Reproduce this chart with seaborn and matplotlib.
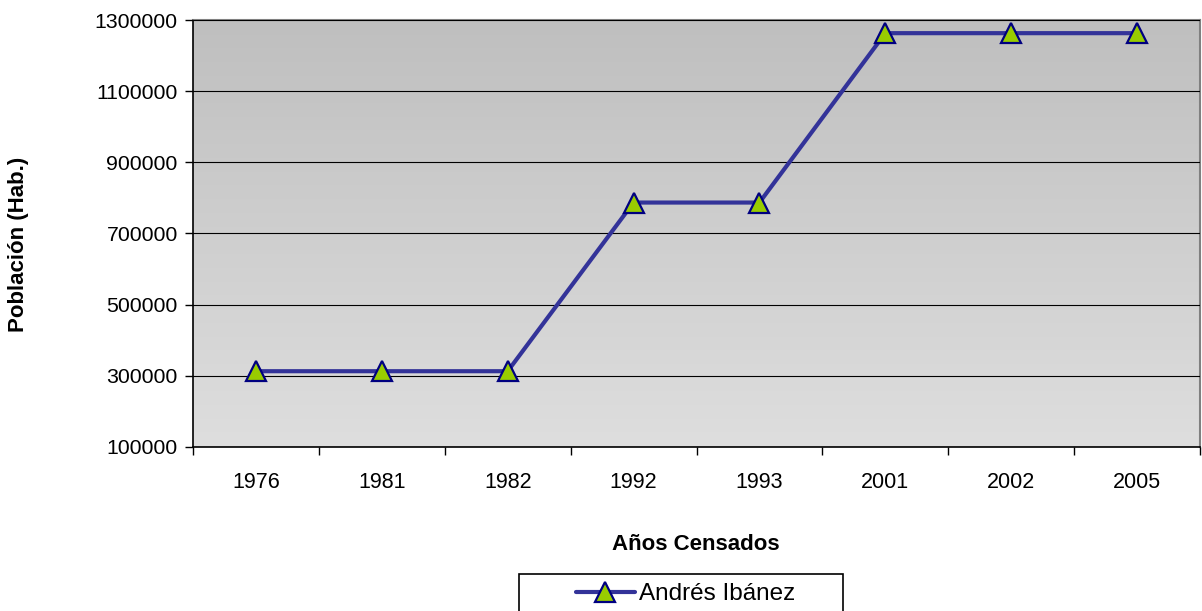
import seaborn as sns
import matplotlib.pyplot as plt
import matplotlib.patches as mpatches
import numpy as np
import pandas as pd

# census years and population
years = ["1976", "1981", "1982", "1992", "1993", "2001", "2002", "2005"]
poblacion = [313000, 313000, 313000, 787000, 787000, 1263000, 1263000, 1263000]
serie = "Andrés Ibánez"
y_ticks = [100000, 300000, 500000, 700000, 900000, 1100000, 1300000]

df = pd.DataFrame({"pos": range(len(years)), "anio": years, "poblacion": poblacion})

sns.set_style("white")
plt.rcParams["font.family"] = ["Liberation Sans", "DejaVu Sans"]
plt.rcParams["text.color"] = "black"
plt.rcParams["xtick.color"] = "black"
plt.rcParams["ytick.color"] = "black"

fig = plt.figure(figsize=(12.02, 6.11), dpi=100)
ax = fig.add_axes([193 / 1202, 1 - 447 / 611, 1007 / 1202, 427 / 611])

# gray gradient background like the Excel plot area
grad = np.linspace(0, 1, 256).reshape(-1, 1)
ax.imshow(grad, cmap=plt.matplotlib.colors.LinearSegmentedColormap.from_list("g", ["#bfbfbf", "#dedede"]),
          extent=[0, 1, 0, 1], transform=ax.transAxes, aspect="auto", zorder=0)

sns.lineplot(data=df, x="pos", y="poblacion", ax=ax, color="#333399", linewidth=3,
             marker="^", markersize=14, markerfacecolor="#99cc00", markeredgecolor="#000080",
             markeredgewidth=1.6, label=serie, zorder=3, legend=False)

ax.set_xlim(-0.5, len(years) - 0.5)
ax.set_ylim(100000, 1300000)
ax.set_yticks(y_ticks)
ax.set_yticklabels([str(v) for v in y_ticks])
ax.set_xticks(range(len(years)))
ax.set_xticklabels(years)
ax.set_xticks(np.arange(-0.5, len(years), 1), minor=True)
ax.tick_params(axis="x", which="major", bottom=True, length=0, pad=18, labelsize=15.5)
ax.tick_params(axis="x", which="minor", bottom=True, length=6, width=1, color="black", direction="out")
ax.tick_params(axis="y", left=True, length=6, width=1, color="black", direction="out", pad=5, labelsize=15.3)
ax.yaxis.grid(True, color="black", linewidth=0.8, zorder=1)
ax.set_axisbelow(False)
for l in ax.get_ygridlines():
    l.set_zorder(1)

for s in ["top", "right"]:
    ax.spines[s].set_color("#808080")
    ax.spines[s].set_linewidth(1.5)
for s in ["left", "bottom"]:
    ax.spines[s].set_color("black")
    ax.spines[s].set_linewidth(1.2)

ax.set_xlabel("")
ax.set_ylabel("")
fig.text(696 / 1202, 1 - 544 / 611, "Años Censados", fontsize=16, fontweight="bold",
         ha="center", va="center")
fig.text(19 / 1202, 1 - 244 / 611, "Población (Hab.)", fontsize=16, fontweight="bold",
         ha="center", va="center", rotation=90)

# legend box at the bottom (clipped by the figure edge)
fig.patches.append(mpatches.Rectangle((519 / 1202, -0.02), 324 / 1202, (611 - 574) / 611 + 0.02,
                                      transform=fig.transFigure, facecolor="white",
                                      edgecolor="black", linewidth=1.2))
handles, labels = ax.get_legend_handles_labels()
leg = fig.legend(handles, labels, loc="center", bbox_to_anchor=(686 / 1202, 1 - 594 / 611),
                 frameon=False, fontsize=17.5, handlelength=2.4, handletextpad=0.2, numpoints=1)

plt.savefig("out.png", dpi=100)
